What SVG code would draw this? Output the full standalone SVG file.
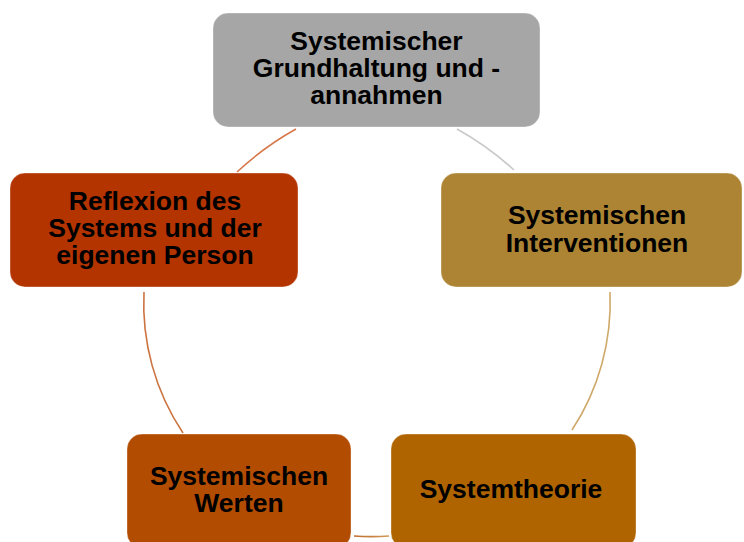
<svg xmlns="http://www.w3.org/2000/svg" width="744" height="542" viewBox="0 0 744 542">
<style>
.box{stroke-width:1;stroke-opacity:0.35;stroke:#ffffff}
.lbl{font-family:"Liberation Sans",Arial,sans-serif;font-weight:bold;font-size:26.5px;fill:#000000;text-anchor:middle}
.arc{fill:none;stroke-width:1.6}
</style>
<defs>
<linearGradient id="gBottom" x1="0" y1="0" x2="1" y2="0">
<stop offset="0" stop-color="#c26a2a"/>
<stop offset="1" stop-color="#cf9a55"/>
</linearGradient>
</defs>
<rect width="744" height="542" fill="#ffffff"/>
<g id="connectors">
<path class="arc" stroke="#c9c9c9" d="M457,129 A300,300 0 0 1 514,170"/>
<path class="arc" stroke="#cfa96a" d="M610,292 A233,233 0 0 1 572,430"/>
<path class="arc" stroke="url(#gBottom)" d="M389,536 A233,233 0 0 1 354,536"/>
<path class="arc" stroke="#cb7440" d="M183,433 A233,233 0 0 1 144,292"/>
<path class="arc" stroke="#d6774a" d="M237,172 A300,300 0 0 1 296,129"/>
</g>
<g id="node-grundhaltung">
<rect class="box" x="213" y="13" width="327" height="114" rx="15" fill="#a6a6a6"/>
<text class="lbl" x="376.5" y="50">Systemischer</text>
<text class="lbl" x="376.5" y="77">Grundhaltung und -</text>
<text class="lbl" x="376.5" y="104">annahmen</text>
</g>
<g id="node-interventionen">
<rect class="box" x="441" y="173" width="301" height="114" rx="15" fill="#ad8433"/>
<text class="lbl" x="597" y="224">Systemischen</text>
<text class="lbl" x="597" y="251.5">Interventionen</text>
</g>
<g id="node-systemtheorie">
<rect class="box" x="391" y="434" width="245" height="114" rx="15" fill="#b06400"/>
<text class="lbl" x="511" y="498">Systemtheorie</text>
</g>
<g id="node-werten">
<rect class="box" x="127" y="434" width="224" height="114" rx="15" fill="#b24c00"/>
<text class="lbl" x="239" y="484.5">Systemischen</text>
<text class="lbl" x="239" y="511.5">Werten</text>
</g>
<g id="node-reflexion">
<rect class="box" x="10" y="173" width="288" height="114" rx="15" fill="#b43400"/>
<text class="lbl" x="155" y="209.5">Reflexion des</text>
<text class="lbl" x="155" y="236.5">Systems und der</text>
<text class="lbl" x="155" y="263.5">eigenen Person</text>
</g>
</svg>
